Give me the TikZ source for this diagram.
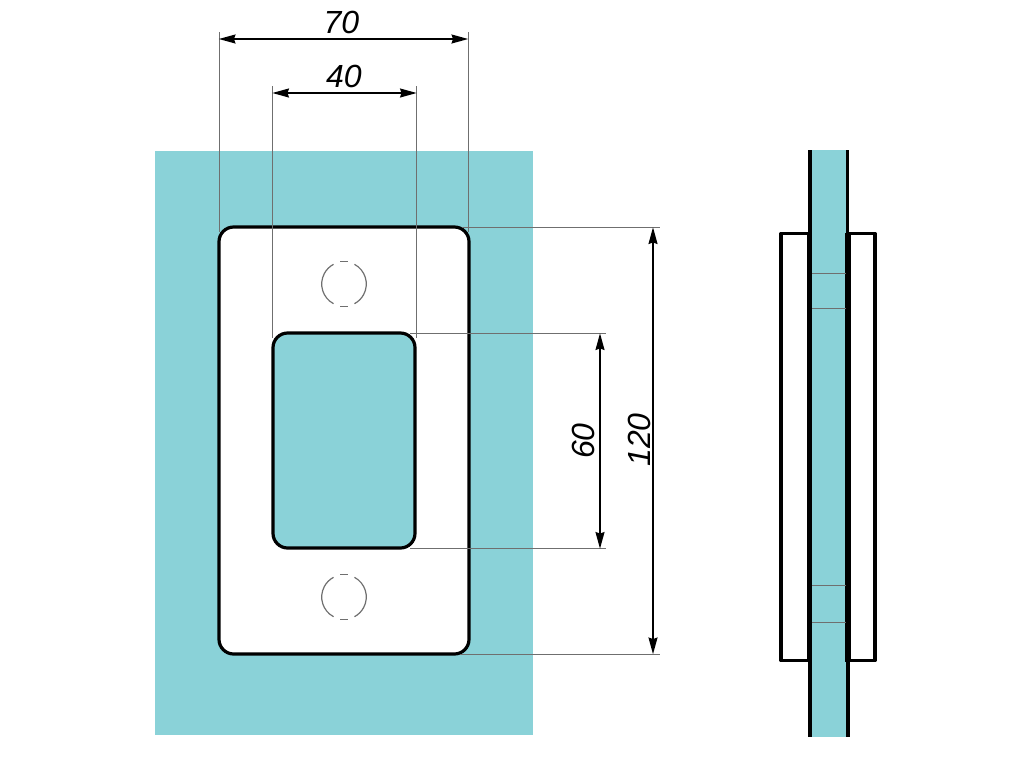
\documentclass[tikz,border=0pt]{standalone}
\usepackage{fontspec}
\setmainfont{Liberation Sans}
\usetikzlibrary{arrows.meta}
\definecolor{teal1}{HTML}{8AD2D8}
\definecolor{ext}{HTML}{6F6F6F}
\tikzset{
  px/.style={x=0.75pt,y=-0.75pt},
  sheet/.style={fill=teal1,draw=none,inner sep=0pt,outer sep=0pt},
  plate/.style={draw=black,line width=2.4pt,rounded corners=11pt,inner sep=0pt,outer sep=0pt},
  extline/.style={draw=ext,line width=0.7pt},
  dimline/.style={draw=black,line width=1.9pt,{Stealth[length=12.5pt,width=6.5pt,inset=1pt]}-{Stealth[length=12.5pt,width=6.5pt,inset=1pt]},shorten <=-0.3pt,shorten >=-0.3pt},
  dimtext/.style={font=\itshape\fontsize{24}{24}\selectfont,inner sep=0pt,text=black},
  edgeline/.style={draw=black,line width=2.4pt},
  heavyline/.style={draw=black,line width=3.8pt},
  hidden/.style={draw=ext,line width=0.9pt}
}
\begin{document}
\begin{tikzpicture}[px]
\useasboundingbox (0,0) rectangle (1024,768);
\fill[white] (0,0) rectangle (1024,768);
% front view
\node[sheet,minimum width=283.5pt,minimum height=438pt] (sheet) at (344,443) {};
\node[plate,fill=white,minimum width=187.5pt,minimum height=320.25pt] (outer) at (344,440.5) {};
\node[plate,fill=teal1,minimum width=106.5pt,minimum height=161.25pt] (window) at (344,440.5) {};
% hidden holes
\coordinate (h1) at (344,284);
\coordinate (h2) at (344,597);
\foreach \c in {h1,h2}{
  \draw[hidden] (\c) ++(-62:22.3) arc[start angle=-62,end angle=62,radius=22.3];
  \draw[hidden] (\c) ++(118:22.3) arc[start angle=118,end angle=242,radius=22.3];
  \draw[hidden] (\c) ++(-4,-22.3) -- ++(8,0);
  \draw[hidden] (\c) ++(-4,22.3) -- ++(8,0);
}
% named dimension points
\coordinate (e70a) at (219,32);  \coordinate (e70b) at (468,32);
\coordinate (a70a) at (219,39);  \coordinate (a70b) at (468,39);
\coordinate (e40a) at (272.5,86); \coordinate (e40b) at (416.5,86);
\coordinate (a40a) at (272.5,93); \coordinate (a40b) at (416.5,93);
\coordinate (e60a) at (606,333.5); \coordinate (e60b) at (606,548.5);
\coordinate (a60a) at (600,333.5); \coordinate (a60b) at (600,548.5);
\coordinate (e120a) at (660,227.5); \coordinate (e120b) at (660,654);
\coordinate (a120a) at (653,227.5); \coordinate (a120b) at (653,654);
% extension lines
\draw[extline] (e70a) -- (219,232);
\draw[extline] (e70b) -- (468,232);
\draw[extline] (e40a) -- (272.5,338);
\draw[extline] (e40b) -- (416.5,338);
\draw[extline] (410,333.5) -- (e60a);
\draw[extline] (410,548.5) -- (e60b);
\draw[extline] (462,227.5) -- (e120a);
\draw[extline] (460,654) -- (e120b);
% dimension lines
\draw[dimline] (a70a) -- (a70b);
\draw[dimline] (a40a) -- (a40b);
\draw[dimline] (a60a) -- (a60b);
\draw[dimline] (a120a) -- (a120b);
\node[dimtext] (t70) at (341.5,22) {70};
\node[dimtext] (t40) at (344,76) {40};
\node[dimtext,rotate=90] (t60) at (583,441) {60};
\node[dimtext,rotate=90] (t120) at (639,440) {120};
% side view
\node[sheet,minimum width=27.75pt,minimum height=440.25pt] (strip) at (828.5,443.5) {};
\draw[edgeline] (810,150) -- (810,233);
\draw[edgeline] (847.5,150) -- (847.5,233);
\draw[edgeline] (810,661) -- (810,737);
\draw[edgeline,line width=3pt] (848,661) -- (848,737);
\draw[heavyline] (809.5,233) -- (809.5,662);
\draw[heavyline] (848,233) -- (848,662);
\draw[edgeline,line cap=round,line join=round] (809,233.5) -- (781,233.5) -- (781,660.5) -- (809,660.5);
\draw[edgeline,line cap=round,line join=round] (848,233.5) -- (875,233.5) -- (875,660.5) -- (848,660.5);
\foreach \y in {273,308,585,622}{
  \draw[hidden,line width=0.7pt] (812,\y) -- (846,\y);
}
\end{tikzpicture}
\end{document}
